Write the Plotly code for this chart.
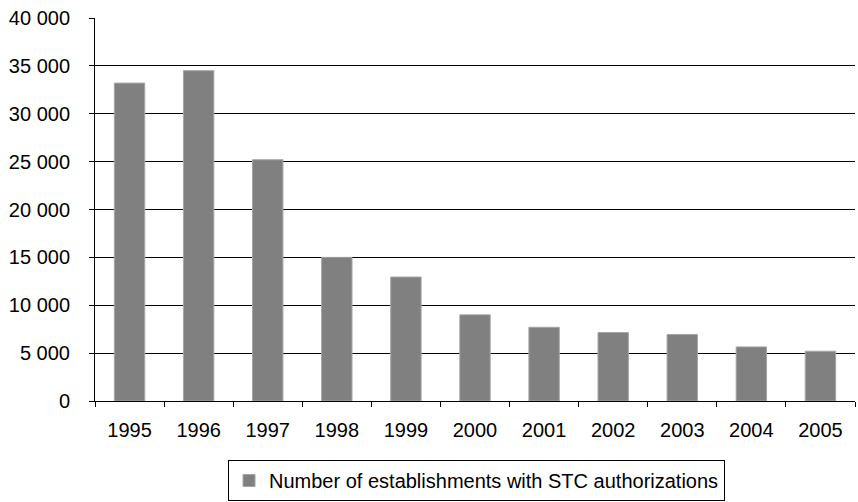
import plotly.graph_objects as go

years = ["1995", "1996", "1997", "1998", "1999", "2000", "2001", "2002", "2003", "2004", "2005"]
establishments = [33200, 34500, 25200, 15000, 12950, 9000, 7700, 7150, 6950, 5650, 5200]
y_ticks = [0, 5000, 10000, 15000, 20000, 25000, 30000, 35000, 40000]
y_tick_labels = ["0", "5 000", "10 000", "15 000", "20 000", "25 000", "30 000", "35 000", "40 000"]
series_name = "Number of establishments with STC authorizations"

fig = go.Figure()
fig.add_trace(go.Bar(
    x=years, y=establishments, name=series_name,
    marker=dict(color="#808080", line=dict(color="#a6a6a6", width=1)),
    showlegend=True,
))

font = dict(family="Liberation Sans, Arial, sans-serif", size=20, color="#000000")
fig.update_layout(
    width=858, height=502,
    margin=dict(l=95, r=3, t=18, b=101),
    paper_bgcolor="white", plot_bgcolor="white",
    font=font,
    bargap=0.56,
    showlegend=True,
    legend=dict(
        orientation="h", x=0.502, xanchor="center",
        yref="container", y=0.002, yanchor="bottom",
        bordercolor="#000000", borderwidth=1, font=font,
        itemwidth=30, tracegroupgap=0,
    ),
    xaxis=dict(
        type="category", showline=True, linecolor="#000000", linewidth=1,
        ticks="outside", tickson="boundaries", ticklen=5, tickcolor="#000000",
        showgrid=False, tickfont=font, automargin=False,
        ticklabelstandoff=11,
    ),
    yaxis=dict(
        range=[0, 40000], tickvals=y_ticks, ticktext=y_tick_labels,
        showline=True, linecolor="#000000", linewidth=1,
        ticks="outside", ticklen=5, tickcolor="#000000",
        showgrid=True, gridcolor="#000000", gridwidth=1,
        zeroline=False, tickfont=font, automargin=False,
        ticklabelstandoff=15,
    ),
)

fig.write_html(
    "out.html",
    config={"displayModeBar": False},
    post_script="document.body.style.margin='0';document.body.style.overflow='hidden';",
)
